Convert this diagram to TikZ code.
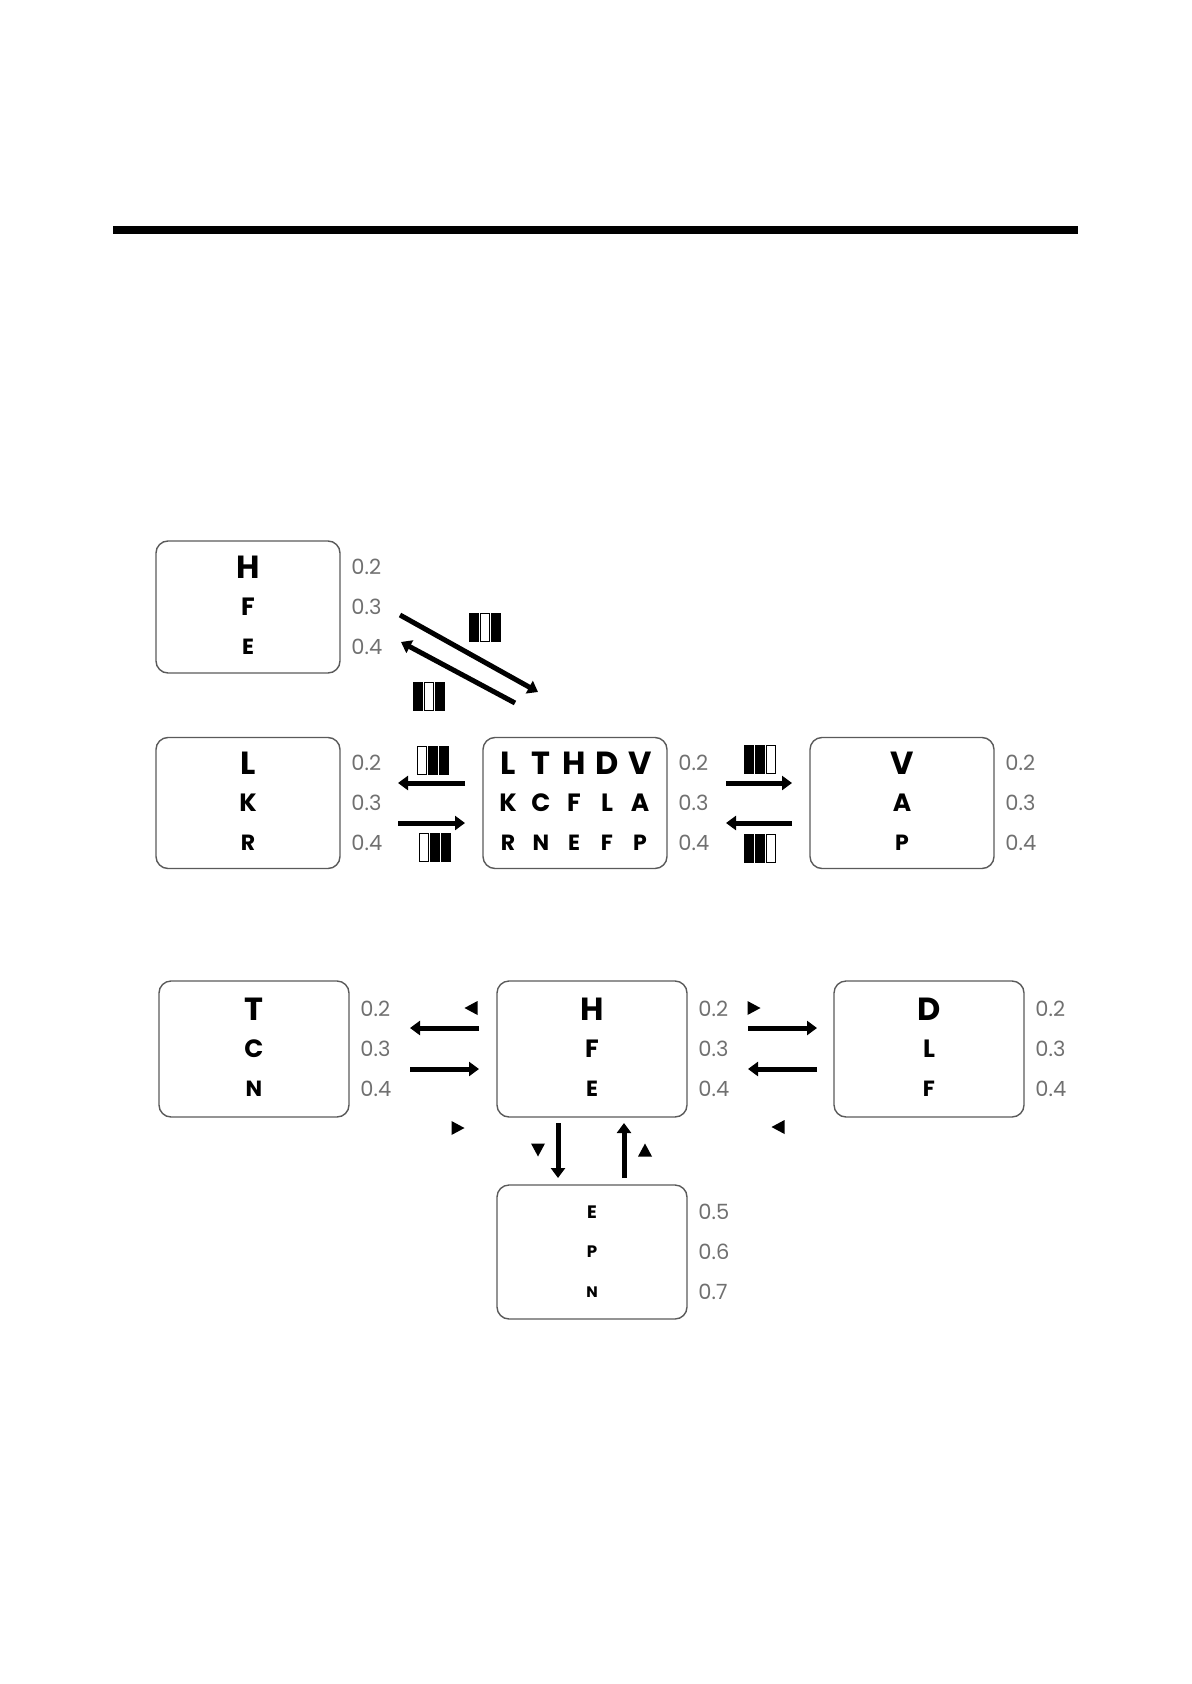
\documentclass[tikz,border=0pt]{standalone}
\usepackage{fontspec}
\usepackage{xcolor}
\usetikzlibrary{arrows.meta}
\setmainfont{Poppins}

\definecolor{boxgray}{HTML}{5A5A5A}
\definecolor{numgray}{HTML}{707070}

% 三条竖纹标记：位置 + 三个填充色
\newcommand{\barmark}[4]{%
  \begin{scope}[shift={#1}]
    \foreach \f [count=\k] in {#2,#3,#4} {
      \filldraw[fill=\f, draw=black, line width=0.4pt]
        ({-16+11*(\k-1)},-14) rectangle ++(9,28);
    }
  \end{scope}}

% 小三角标记：位置 + 旋转角
\newcommand{\pointer}[2]{%
  \fill[shift={#1}, rotate=#2] (6.5,0) -- (-6.5,7) -- (-6.5,-7) -- cycle;}

\begin{document}
\begin{tikzpicture}[x=0.5pt,y=-0.5pt,
  card/.style={draw=boxgray, line width=0.7pt, rounded corners=6pt, inner sep=0pt},
  letter/.style={inner sep=0pt},
  acuity/.style={font=\fontsize{10.5}{10.5}\selectfont, text=numgray, anchor=west, inner sep=0pt},
  arr/.style={line width=2.5pt, -{Triangle[length=5pt,width=7pt]}}]

% ============================================================
% 参数区
% ============================================================

\def\SizeA{16}     % 第一行字号
\def\SizeB{12.5}   % 第二行字号
\def\SizeC{11}     % 第三行字号
\def\Gap{40}       % 行距

\useasboundingbox (0,0) rectangle (1191,1684);

% ============================================================
% 顶部横线
% ============================================================

\fill (113,226) rectangle (1078,234);

% ============================================================
% 单列视力表
% ============================================================

\foreach \nm/\cx/\cy/\w/\h/\la/\lb/\lc/\na/\nb/\nc/\fa/\fb/\fc in {
  top/248/607/184/132/H/F/E/0.2/0.3/0.4/\SizeA/\SizeB/\SizeC,
  left/248/803/184/131/L/K/R/0.2/0.3/0.4/\SizeA/\SizeB/\SizeC,
  right/902/803/184/131/V/A/P/0.2/0.3/0.4/\SizeA/\SizeB/\SizeC,
  west/254/1049/190/136/T/C/N/0.2/0.3/0.4/\SizeA/\SizeB/\SizeC,
  mid/592/1049/190/136/H/F/E/0.2/0.3/0.4/\SizeA/\SizeB/\SizeC,
  east/929/1049/190/136/D/L/F/0.2/0.3/0.4/\SizeA/\SizeB/\SizeC,
  low/592/1252/190/134/E/P/N/0.5/0.6/0.7/9/8.3/7.6} {

  \node[card, minimum width=\w*0.5pt, minimum height=\h*0.5pt] (\nm) at (\cx,\cy) {};

  % 字母
  \node[letter, font=\bfseries\fontsize{\fa}{\fa}\selectfont] (\nm-a) at (\cx,\cy-\Gap) {\la};
  \node[letter, font=\bfseries\fontsize{\fb}{\fb}\selectfont] (\nm-b) at (\cx,\cy) {\lb};
  \node[letter, font=\bfseries\fontsize{\fc}{\fc}\selectfont] (\nm-c) at (\cx,\cy+\Gap) {\lc};

  % 视力值
  \node[acuity] (\nm-na) at (\cx+\w/2+11,\cy-\Gap) {\na};
  \node[acuity] (\nm-nb) at (\cx+\w/2+11,\cy) {\nb};
  \node[acuity] (\nm-nc) at (\cx+\w/2+11,\cy+\Gap) {\nc};
}

% ============================================================
% 中间的五列视力表
% ============================================================

\node[card, minimum width=92pt, minimum height=65.5pt] (ctr) at (575,803) {};

\foreach \l [count=\i] in {L,T,H,D,V}
  \node[letter, font=\bfseries\fontsize{\SizeA}{\SizeA}\selectfont] (ctr-a\i) at (475+33*\i,763) {\l};
\foreach \l [count=\i] in {K,C,F,L,A}
  \node[letter, font=\bfseries\fontsize{\SizeB}{\SizeB}\selectfont] (ctr-b\i) at (475+33*\i,803) {\l};
\foreach \l [count=\i] in {R,N,E,F,P}
  \node[letter, font=\bfseries\fontsize{\SizeC}{\SizeC}\selectfont] (ctr-c\i) at (475+33*\i,843) {\l};

\node[acuity] (ctr-na) at (678,763) {0.2};
\node[acuity] (ctr-nb) at (678,803) {0.3};
\node[acuity] (ctr-nc) at (678,843) {0.4};

% ============================================================
% 箭头端点
% ============================================================

\coordinate (d1s) at (400,615);  \coordinate (d1e) at (538,692);
\coordinate (d2s) at (515,703);  \coordinate (d2e) at (401,642);

\coordinate (l1s) at (465,783);  \coordinate (l1e) at (398,783);
\coordinate (l2s) at (398,823);  \coordinate (l2e) at (465,823);
\coordinate (r1s) at (726,783);  \coordinate (r1e) at (792,783);
\coordinate (r2s) at (792,823);  \coordinate (r2e) at (726,823);

\coordinate (w1s) at (479,1028); \coordinate (w1e) at (410,1028);
\coordinate (w2s) at (410,1069); \coordinate (w2e) at (479,1069);
\coordinate (e1s) at (748,1028); \coordinate (e1e) at (817,1028);
\coordinate (e2s) at (817,1069); \coordinate (e2e) at (748,1069);
\coordinate (v1s) at (558,1123); \coordinate (v1e) at (558,1178);
\coordinate (v2s) at (624,1178); \coordinate (v2e) at (624,1123);

% ============================================================
% 箭头
% ============================================================

\foreach \a in {d1,d2,l1,l2,r1,r2,w1,w2,e1,e2,v1,v2}
  \draw[arr] (\a s) -- (\a e);

% ============================================================
% 竖纹标记与三角标记
% ============================================================

\barmark{(485,627)}{black}{white}{black}
\barmark{(429,696)}{black}{white}{black}
\barmark{(433,760)}{white}{black}{black}
\barmark{(435,847)}{white}{black}{black}
\barmark{(760,759)}{black}{black}{white}
\barmark{(760,848)}{black}{black}{white}

\pointer{(471,1008)}{180}
\pointer{(458,1128)}{0}
\pointer{(754,1008)}{0}
\pointer{(778,1127)}{180}
\pointer{(538,1150)}{-90}
\pointer{(645,1150)}{90}

\end{tikzpicture}
\end{document}
